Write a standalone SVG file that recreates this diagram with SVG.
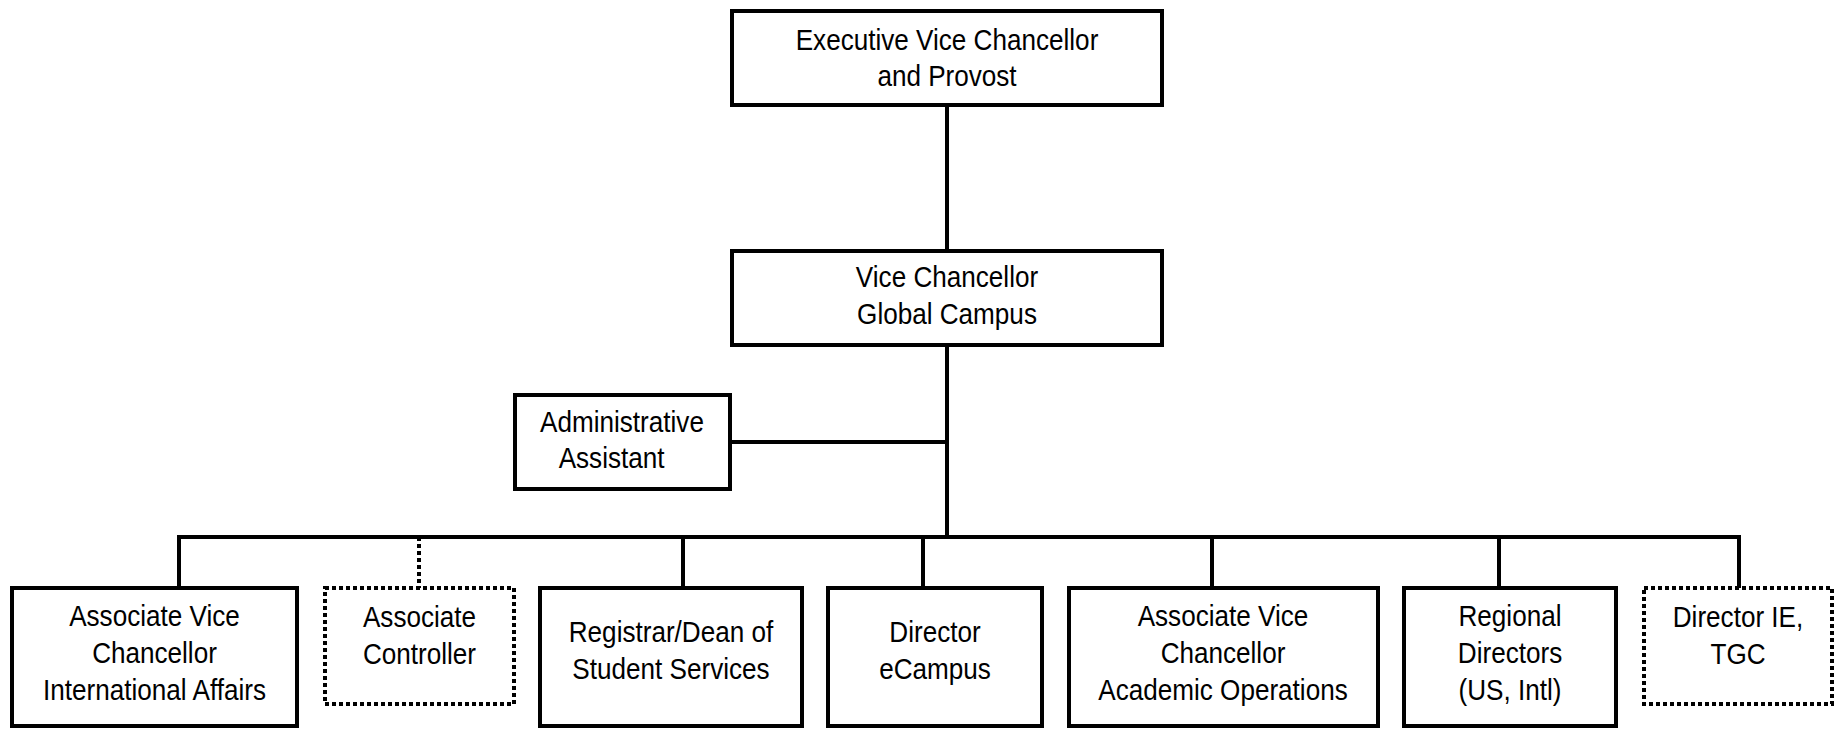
<svg xmlns="http://www.w3.org/2000/svg" width="1843" height="729" viewBox="0 0 1843 729">
<style>
.box{fill:#fff;stroke:#000;stroke-width:4}
.dot{fill:#fff;stroke:#000;stroke-width:4;stroke-dasharray:4 3}
.ln{fill:none;stroke:#000;stroke-width:4}
.dl{fill:none;stroke:#000;stroke-width:4;stroke-dasharray:4 3}
text{font-family:"Liberation Sans",Arial,sans-serif;font-size:30px;fill:#000;text-anchor:middle}
</style>
<rect x="0" y="0" width="1843" height="729" fill="#fff"/>
<g id="connectors">
<line class="ln" x1="947" y1="105" x2="947" y2="251"/>
<line class="ln" x1="947" y1="345" x2="947" y2="537"/>
<line class="ln" x1="730" y1="442" x2="947" y2="442"/>
<polyline class="ln" points="179,588 179,537 1739,537 1739,588"/>
<line class="dl" x1="419" y1="537" x2="419" y2="588"/>
<line class="ln" x1="683" y1="537" x2="683" y2="588"/>
<line class="ln" x1="923" y1="537" x2="923" y2="588"/>
<line class="ln" x1="1212" y1="537" x2="1212" y2="588"/>
<line class="ln" x1="1499" y1="537" x2="1499" y2="588"/>
</g>
<g id="evc">
<rect class="box" x="732" y="11" width="430" height="94"/>
<g transform="translate(947 0) scale(0.87 1)"><text><tspan x="0" y="50">Executive Vice Chancellor</tspan><tspan x="0" y="86">and Provost</tspan></text></g>
</g>
<g id="vc">
<rect class="box" x="732" y="251" width="430" height="94"/>
<g transform="translate(947 0) scale(0.87 1)"><text><tspan x="0" y="287">Vice Chancellor</tspan><tspan x="0" y="324">Global Campus</tspan></text></g>
</g>
<g id="admin">
<rect class="box" x="515" y="395" width="215" height="94"/>
<g transform="translate(622 0) scale(0.87 1)"><text><tspan x="0" y="432">Administrative</tspan><tspan x="-12" y="468">Assistant</tspan></text></g>
</g>
<g id="avc-ia">
<rect class="box" x="12" y="588" width="285" height="138"/>
<g transform="translate(154.5 0) scale(0.87 1)"><text><tspan x="0" y="626">Associate Vice</tspan><tspan x="0" y="663">Chancellor</tspan><tspan x="0" y="700">International Affairs</tspan></text></g>
</g>
<g id="assoc-controller">
<rect class="dot" x="325" y="588" width="189" height="116"/>
<g transform="translate(419.5 0) scale(0.87 1)"><text><tspan x="0" y="627">Associate</tspan><tspan x="0" y="664">Controller</tspan></text></g>
</g>
<g id="registrar">
<rect class="box" x="540" y="588" width="262" height="138"/>
<g transform="translate(671 0) scale(0.87 1)"><text><tspan x="0" y="642">Registrar/Dean of</tspan><tspan x="0" y="679">Student Services</tspan></text></g>
</g>
<g id="ecampus">
<rect class="box" x="828" y="588" width="214" height="138"/>
<g transform="translate(935 0) scale(0.87 1)"><text><tspan x="0" y="642">Director</tspan><tspan x="0" y="679">eCampus</tspan></text></g>
</g>
<g id="avc-ao">
<rect class="box" x="1069" y="588" width="309" height="138"/>
<g transform="translate(1223 0) scale(0.87 1)"><text><tspan x="0" y="626">Associate Vice</tspan><tspan x="0" y="663">Chancellor</tspan><tspan x="0" y="700">Academic Operations</tspan></text></g>
</g>
<g id="regional">
<rect class="box" x="1404" y="588" width="212" height="138"/>
<g transform="translate(1510 0) scale(0.87 1)"><text><tspan x="0" y="626">Regional</tspan><tspan x="0" y="663">Directors</tspan><tspan x="0" y="700">(US, Intl)</tspan></text></g>
</g>
<g id="director-ie">
<rect class="dot" x="1644" y="588" width="188" height="116"/>
<g transform="translate(1738 0) scale(0.87 1)"><text><tspan x="0" y="627">Director IE,</tspan><tspan x="0" y="664">TGC</tspan></text></g>
</g>
</svg>
